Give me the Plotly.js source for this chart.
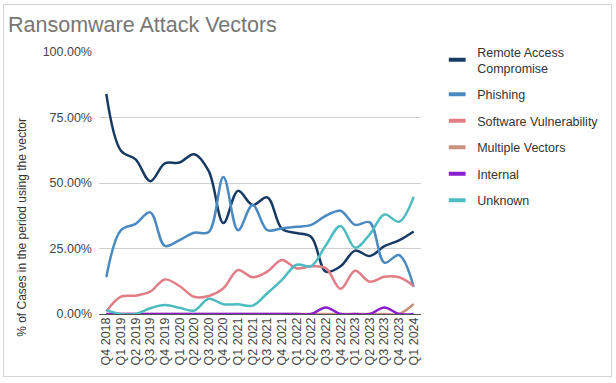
<!DOCTYPE html>
<html><head><meta charset="utf-8">
<script src="https://cdn.plot.ly/plotly-3.0.1.min.js"></script>
<style>
html,body{margin:0;padding:0;background:#fff;}
#wrap{position:relative;width:616px;height:383px;}
#chart{position:absolute;left:0;top:0;width:616px;height:383px;}
#frame{position:absolute;left:3px;top:4px;width:607px;height:371px;border:1px solid #d4d4d4;pointer-events:none;}
</style></head>
<body>
<div id="wrap"><div id="chart"></div><div id="frame"></div></div>
<script>
const quarters = ["Q4 2018","Q1 2019","Q2 2019","Q3 2019","Q4 2019","Q1 2020","Q2 2020","Q3 2020","Q4 2020","Q1 2021","Q2 2021","Q3 2021","Q4 2021","Q1 2022","Q2 2022","Q3 2022","Q4 2022","Q1 2023","Q2 2023","Q3 2023","Q4 2023","Q1 2024"];
const remoteAccess = [84, 62.3, 59, 50.7, 57.5, 57.8, 61, 54.5, 34.7, 47, 41.6, 44.5, 32.5, 30.9, 29.4, 16.2, 18.2, 24.2, 22.1, 25.9, 28.1, 31.5];
const phishing = [14, 32, 34.4, 38.8, 26, 28.2, 31, 31.3, 52.3, 32, 41.6, 32, 32.7, 33.3, 34, 37.5, 39.4, 34, 35, 19.6, 22.5, 10.4];
const softwareVuln = [1, 6.6, 7, 8.5, 13.2, 10.7, 6.6, 6.9, 9.8, 16.8, 14, 16.2, 20.6, 17.4, 18.2, 17.5, 9.6, 16.5, 12.3, 14.2, 14, 10.7];
const multipleVectors = [0, 0, 0, 0, 0, 0, 0, 0, 0, 0, 0, 0, 0, 0, 0, 0, 0, 0, 0, 0, 0, 3.8];
const internal = [0, 0, 0, 0, 0, 0, 0, 0, 0, 0, 0, 0, 0, 0, 0, 2.5, 0, 0, 0, 2.5, 0, 0];
const unknown = [1.5, 0, 0, 2.2, 3.4, 2.4, 1.3, 5.8, 3.7, 3.7, 3.2, 7.9, 13, 18.8, 18.3, 26.2, 33.6, 25.3, 30.4, 38, 35.2, 44.7];
const seriesNames = ["Remote Access<br>Compromise","Phishing","Software Vulnerability","Multiple Vectors","Internal","Unknown"];
const seriesColors = ["#173a63","#4b8ac0","#e27d86","#c9927f","#8a1dcf","#4dbcc0"];
const seriesData = [remoteAccess, phishing, softwareVuln, multipleVectors, internal, unknown];

const traces = [];
seriesData.forEach((vals, i) => {
  traces.push({
    type: 'scatter', mode: 'lines', x: quarters, y: vals.map(v => v / 100),
    name: seriesNames[i], legendgroup: 'g' + i, showlegend: false,
    line: {color: seriesColors[i], width: 2.5, shape: 'spline', smoothing: 1},
    hoverinfo: 'skip'
  });
});
seriesData.forEach((vals, i) => {
  traces.push({
    type: 'scatter', mode: 'markers', x: [quarters[0]], y: [null],
    name: seriesNames[i], legendgroup: 'g' + i, showlegend: true,
    marker: {symbol: 'line-ew', size: 12, color: seriesColors[i], line: {color: seriesColors[i], width: 4}}
  });
});

const W = 616, H = 383;
const L = 99, R = 179, T = 52, B = 69;
const pw = W - L - R, ph = H - T - B;
const layout = {
  width: W, height: H,
  margin: {l: L, r: R, t: T, b: B, pad: 0},
  paper_bgcolor: '#fff', plot_bgcolor: '#fff',
  font: {family: 'Liberation Sans, Arial, sans-serif', size: 12.5, color: '#444'},
  title: {text: 'Ransomware Attack Vectors', x: 8 / W, xanchor: 'left', xref: 'container',
          y: 1 - 24 / H, yanchor: 'middle', yref: 'container',
          font: {family: 'Liberation Sans, Arial, sans-serif', size: 21.5, color: '#767676'}},
  xaxis: {type: 'category', range: [-0.5, quarters.length - 0.5], tickangle: -90,
          tickmode: 'array', tickvals: quarters, ticktext: quarters,
          showgrid: false, zeroline: false, showline: false, ticks: '',
          tickfont: {size: 12.5, color: '#444'}, fixedrange: true},
  yaxis: {range: [0, 1], tickvals: [0, 0.25, 0.5, 0.75, 1], tickformat: '.2%',
          showgrid: true, gridcolor: '#d0d0d0', gridwidth: 1, zeroline: true, zerolinecolor: '#555', zerolinewidth: 1,
          showline: false, ticks: '', ticklabelstandoff: 6,
          tickfont: {size: 12.5, color: '#444'}, fixedrange: true},
  annotations: [{
    text: '% of Cases in the period using the vector', textangle: -90,
    xref: 'paper', yref: 'paper', x: (18 - L) / pw, y: (H - B - 227) / ph,
    xanchor: 'center', yanchor: 'middle', showarrow: false,
    font: {size: 12, color: '#333'}
  }],
  legend: {x: (454 - L) / pw, xanchor: 'left', y: 1 + 15 / ph, yanchor: 'top',
           font: {size: 12.5, color: '#333'}, itemwidth: 30, tracegroupgap: 7.2,
           bgcolor: 'rgba(0,0,0,0)', traceorder: 'grouped'},
  showlegend: true
};
Plotly.newPlot('chart', traces, layout, {displayModeBar: false, staticPlot: true});
</script>
</body></html>
